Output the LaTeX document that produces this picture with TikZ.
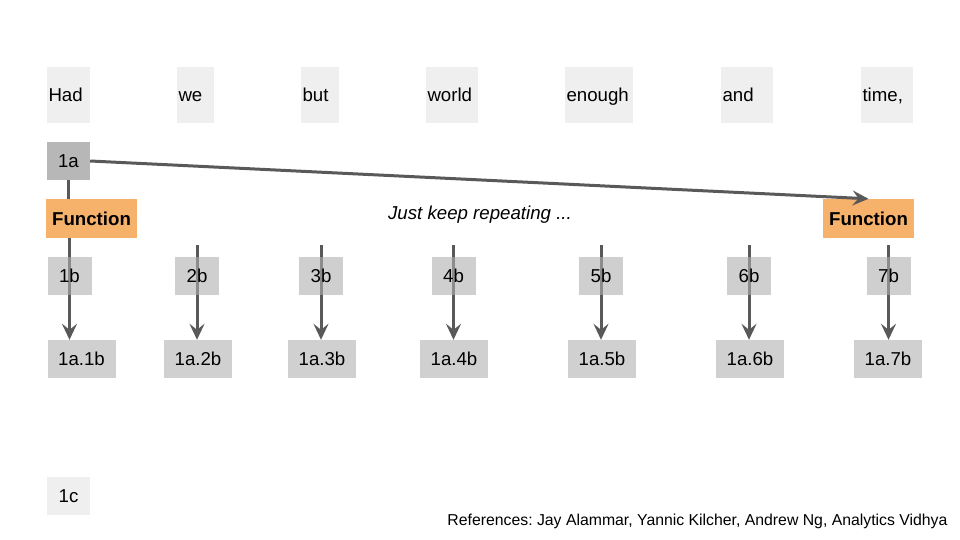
\documentclass[tikz,border=0pt]{standalone}
\usepackage{fontspec}
\setmainfont{Liberation Sans}
\usepackage{tikz}
\usetikzlibrary{arrows.meta,backgrounds}
\frenchspacing

\definecolor{wordgray}{HTML}{EFEFEF}
\definecolor{keygray}{HTML}{B7B7B7}
\definecolor{tokgray}{HTML}{AFAFAF}
\definecolor{outgray}{HTML}{D0D0D0}
\definecolor{fnorange}{HTML}{F6B26B}
\definecolor{arrgray}{HTML}{595959}

\begin{document}
\begin{tikzpicture}[x=1pt,y=-1pt,
  every node/.style={font=\fontsize{18.67}{22}\selectfont},
  word/.style={fill=wordgray, inner xsep=1.5pt, inner ysep=0pt, align=left, text height=17.5pt, text depth=4pt, minimum height=56pt},
  box/.style={inner sep=0pt, minimum width=#1, minimum height=38pt},
  fn/.style={fill=fnorange, inner sep=0pt, minimum width=91pt, minimum height=39pt, font=\fontsize{18.67}{22}\selectfont\bfseries},
  tok/.style={box=44pt, fill=tokgray, fill opacity=0.6, text opacity=1},
  outbox/.style={box=68pt, fill=outgray},
  arr/.style={draw=arrgray, line width=3pt, -{Stealth[length=16pt,width=15pt,inset=6pt]}}]

\useasboundingbox (0,0) rectangle (960,540);

\node[word, text width=40pt] (had) at (68.5,95) {Had};
\node[word, text width=34pt] (we) at (195.5,95) {we};
\node[word, text width=35pt] (but) at (320,95) {but};
\node[word, text width=49pt] (world) at (452,95) {world};
\node[word, text width=65pt] (enough) at (599,95) {enough};
\node[word, text width=49pt] (and) at (747,95) {and};
\node[word, text width=49pt] (time) at (887,95) {time,};

\node[box=43pt, fill=keygray] (k1) at (68.5,161) {1a};

\node[fn] (fnL) at (91.5,218.5) {Function};
\node[fn] (fnR) at (868.5,218.5) {Function};

\node (rep) at (480,215) {\itshape Just keep repeating ...};

\node[tok] (b1) at (69.5,276) {1b};
\node[tok] (b2) at (197,276) {2b};
\node[tok] (b3) at (321,276) {3b};
\node[tok] (b4) at (453.5,276) {4b};
\node[tok] (b5) at (601,276) {5b};
\node[tok] (b6) at (749,276) {6b};
\node[tok] (b7) at (888.5,276) {7b};

\node[outbox] (o1) at (81.5,359) {1a.1b};
\node[outbox] (o2) at (198,359) {1a.2b};
\node[outbox] (o3) at (322,359) {1a.3b};
\node[outbox] (o4) at (454,359) {1a.4b};
\node[outbox] (o5) at (602,359) {1a.5b};
\node[outbox] (o6) at (750,359) {1a.6b};
\node[outbox] (o7) at (888,359) {1a.7b};

\node[box=43pt, fill=wordgray] (q1) at (68.5,496) {1c};

\node[anchor=east, font=\fontsize{15.8}{19}\selectfont] (refs) at (951,521) {References: Jay Alammar, Yannic Kilcher, Andrew Ng, Analytics Vidhya};

\coordinate (s2) at (197,245);
\coordinate (s3) at (321,245);
\coordinate (s4) at (453.5,245);
\coordinate (s5) at (601,245);
\coordinate (s6) at (749,245);
\coordinate (s7) at (888.5,245);

\draw[arr] (k1.east) -- (fnR.north);

\begin{pgfonlayer}{background}
\draw[draw=arrgray, line width=3pt] (k1.south) -- (k1.south |- fnL.north);
\draw[arr] (fnL.south -| b1) -- (b1 |- o1.north);
\draw[arr] (s2) -- (b2 |- o2.north);
\draw[arr] (s3) -- (b3 |- o3.north);
\draw[arr] (s4) -- (b4 |- o4.north);
\draw[arr] (s5) -- (b5 |- o5.north);
\draw[arr] (s6) -- (b6 |- o6.north);
\draw[arr] (s7) -- (b7 |- o7.north);
\end{pgfonlayer}

\end{tikzpicture}
\end{document}
